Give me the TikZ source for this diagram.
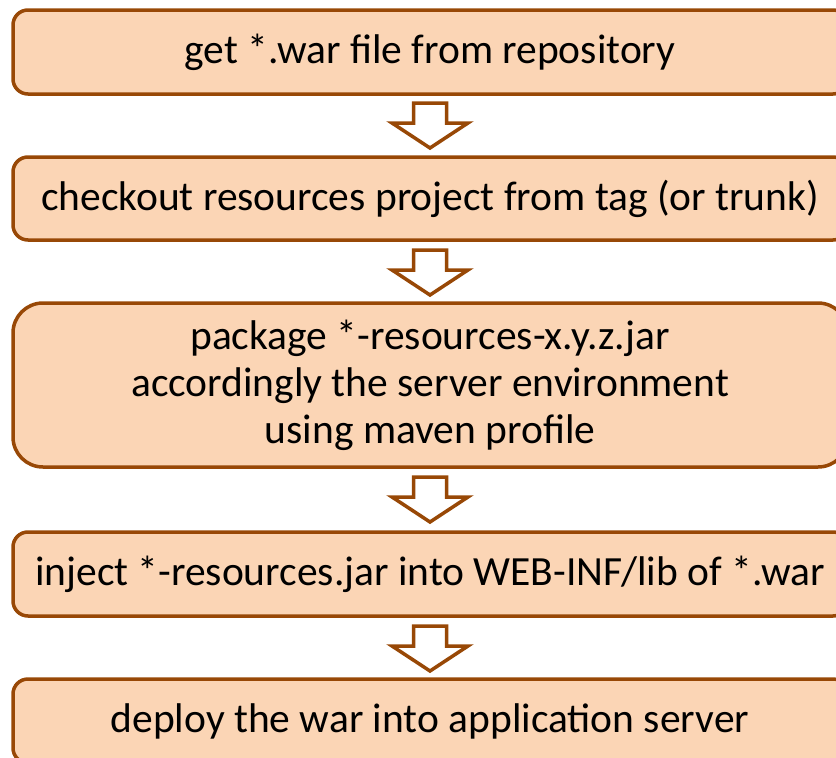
\documentclass[tikz,border=0pt]{standalone}
\usepackage{fontspec}
\setmainfont{Carlito}
\usetikzlibrary{calc}
\definecolor{boxfill}{RGB}{251,213,181}
\definecolor{boxline}{RGB}{152,72,6}
\tikzset{
  stepbox/.style={draw=boxline, fill=boxfill, line width=3.5pt, rounded corners=#1},
  stepbox/.default=15pt,
  steptext/.style={inner sep=0pt, align=center, font=\fontsize{41.5}{47}\selectfont},
  blockarrow/.style={draw=boxline, fill=white, line width=3.5pt, line join=miter}
}
\newcommand{\downarrowshape}[1]{%
  \draw[blockarrow] ($(#1)+(-16.5,0)$) -- ($(#1)+(16.5,0)$) -- ($(#1)+(16.5,20)$) -- ($(#1)+(38,20)$)
    -- ($(#1)+(0,45)$) -- ($(#1)+(-38,20)$) -- ($(#1)+(-16.5,20)$) -- cycle;}
\begin{document}
\begin{tikzpicture}[x=1pt,y=-1pt]
\useasboundingbox (0,0) rectangle (836,758);
\clip (0,0) rectangle (836,758);
\path[stepbox] (13,10) rectangle (848,94);
\node[steptext] (b1) at (430,52) {get *.war file from repository};
\path[stepbox] (13,157) rectangle (848,240);
\node[steptext] (b2) at (430,198.5) {checkout resources project from tag (or trunk)};
\path[stepbox=30pt] (13,303) rectangle (848,467);
\node[steptext] (b3) at (430,385) {package *-resources-x.y.z.jar\\accordingly the server environment\\using maven profile};
\path[stepbox] (13,532) rectangle (848,616);
\node[steptext] (b4) at (430,574) {inject *-resources.jar into WEB-INF/lib of *.war};
\path[stepbox] (13,679) rectangle (848,763);
\node[steptext] (b5) at (430,721) {deploy the war into application server};
\coordinate (a1) at (430,103);
\coordinate (a2) at (430,250);
\coordinate (a3) at (430,477);
\coordinate (a4) at (430,626);
\downarrowshape{a1}
\downarrowshape{a2}
\downarrowshape{a3}
\downarrowshape{a4}
\end{tikzpicture}
\end{document}
